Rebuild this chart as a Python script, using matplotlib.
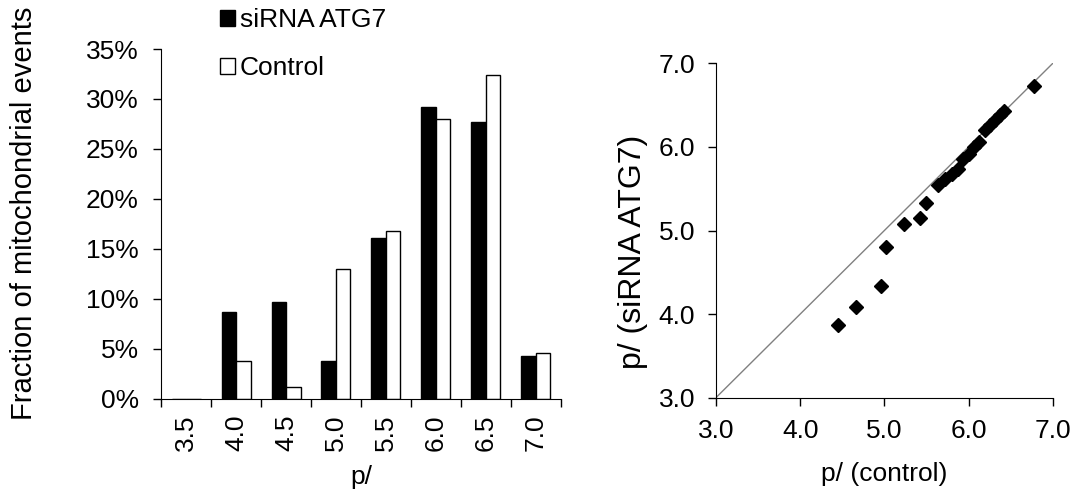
import matplotlib.pyplot as plt
import numpy as np
from matplotlib.ticker import FixedLocator, PercentFormatter

plt.rcParams['font.family'] = ['Liberation Sans', 'DejaVu Sans']

# histogram data (fraction of events, %)
bins = ['3.5', '4.0', '4.5', '5.0', '5.5', '6.0', '6.5', '7.0']
sirna = [0.0, 8.7, 9.7, 3.8, 16.1, 29.2, 27.7, 4.3]
control = [0.0, 3.8, 1.2, 13.0, 16.8, 28.0, 32.4, 4.6]

# scatter data: pI control vs pI siRNA ATG7
pi_control = [4.45, 4.66, 4.96, 5.02, 5.23, 5.42, 5.49, 5.64, 5.72, 5.80,
              5.88, 5.94, 6.00, 6.06, 6.12, 6.20, 6.26, 6.31, 6.37, 6.42, 6.78]
pi_sirna = [3.87, 4.08, 4.34, 4.80, 5.08, 5.15, 5.33, 5.54, 5.62, 5.68,
            5.74, 5.86, 5.92, 6.00, 6.06, 6.20, 6.26, 6.32, 6.38, 6.43, 6.73]

fs = 19

fig = plt.figure(figsize=(10.75, 4.95), dpi=100)

# left panel: bars
ax1 = fig.add_axes([0.1498, 0.194, 0.372, 0.707])
x = np.arange(len(bins))
w = 0.29
b1 = ax1.bar(x - w/2, sirna, w, color='black', edgecolor='black', linewidth=1,
             label='siRNA ATG7')
b2 = ax1.bar(x + w/2, control, w, color='white', edgecolor='black', linewidth=1,
             label='Control')
ax1.set_xlim(-0.5, len(bins) - 0.5)
ax1.set_ylim(0, 35)
ax1.yaxis.set_major_locator(FixedLocator(np.arange(0, 36, 5)))
ax1.yaxis.set_major_formatter(PercentFormatter(decimals=0))
ax1.set_xticks(x)
ax1.set_xticklabels(bins, rotation=90)
ax1.xaxis.set_minor_locator(FixedLocator(np.arange(-0.5, len(bins), 1)))
ax1.tick_params(axis='x', which='major', length=0, pad=11, labelsize=fs)
ax1.tick_params(axis='x', which='minor', length=6, width=1, direction='out')
ax1.tick_params(axis='y', length=6, width=1, direction='out', labelsize=fs, pad=10)
for s in ['top', 'right']:
    ax1.spines[s].set_visible(False)
ax1.set_xlabel('p/', fontsize=fs, labelpad=10)
ax1.set_ylabel('Fraction of mitochondrial events', fontsize=21)
ax1.yaxis.set_label_coords(-0.3075, 0.53)

fig.legend(handles=[b1, b2], loc='upper left', bbox_to_anchor=(0.19, 1.015),
           frameon=False, fontsize=fs, handlelength=0.55, handleheight=0.55,
           handletextpad=0.2, labelspacing=0.9, borderaxespad=0.2)

# right panel: scatter
ax2 = fig.add_axes([0.666, 0.1966, 0.3133, 0.6754])
ax2.plot([3, 7], [3, 7], color='#808080', linewidth=1)
ax2.plot(pi_control, pi_sirna, linestyle='none', marker='D', color='black',
         markersize=7)
ax2.set_xlim(3, 7)
ax2.set_ylim(3, 7)
ax2.set_xticks([3, 4, 5, 6, 7])
ax2.set_yticks([3, 4, 5, 6, 7])
ax2.set_xticklabels(['3.0', '4.0', '5.0', '6.0', '7.0'])
ax2.set_yticklabels(['3.0', '4.0', '5.0', '6.0', '7.0'])
ax2.tick_params(length=6, width=1, direction='out', labelsize=fs, pad=9)
for s in ['top', 'right']:
    ax2.spines[s].set_visible(False)
ax2.set_xlabel('p/ (control)', fontsize=fs, labelpad=14)
ax2.set_ylabel('p/ (siRNA ATG7)', fontsize=23)
ax2.yaxis.set_label_coords(-0.202, 0.437)

fig.savefig('out.png', dpi=100)
